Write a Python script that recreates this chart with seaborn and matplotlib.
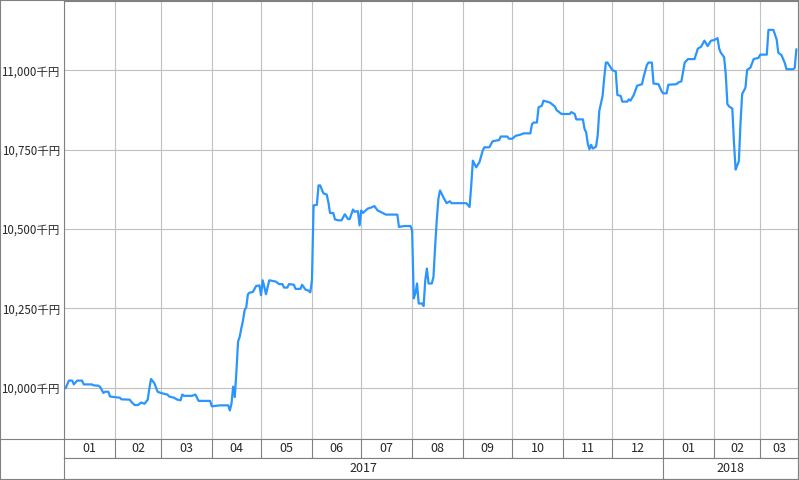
import matplotlib
matplotlib.use("Agg")
import matplotlib.pyplot as plt
import matplotlib.dates as mdates
from matplotlib.patches import Rectangle
from matplotlib.lines import Line2D
import pandas as pd
import seaborn as sns

# values (千円)
dates = [
    "2017-01-02", "2017-01-04", "2017-01-06", "2017-01-07", "2017-01-09", "2017-01-12",
    "2017-01-13", "2017-01-18", "2017-01-19", "2017-01-22", "2017-01-23", "2017-01-25",
    "2017-01-26", "2017-01-28", "2017-01-29", "2017-02-01", "2017-02-04", "2017-02-05",
    "2017-02-10", "2017-02-11", "2017-02-13", "2017-02-15", "2017-02-17", "2017-02-19",
    "2017-02-21", "2017-02-22", "2017-02-23", "2017-02-25", "2017-02-27", "2017-03-01",
    "2017-03-05", "2017-03-06", "2017-03-09", "2017-03-11", "2017-03-13", "2017-03-14",
    "2017-03-15", "2017-03-20", "2017-03-22", "2017-03-24", "2017-03-31", "2017-04-01",
    "2017-04-06", "2017-04-11", "2017-04-12", "2017-04-13", "2017-04-14", "2017-04-15",
    "2017-04-16", "2017-04-17", "2017-04-18", "2017-04-19", "2017-04-20", "2017-04-21",
    "2017-04-22", "2017-04-23", "2017-04-24", "2017-04-26", "2017-04-28", "2017-04-30",
    "2017-05-01", "2017-05-02", "2017-05-03", "2017-05-04", "2017-05-06", "2017-05-10",
    "2017-05-12", "2017-05-14", "2017-05-15", "2017-05-17", "2017-05-18", "2017-05-21",
    "2017-05-22", "2017-05-25", "2017-05-26", "2017-05-28", "2017-05-30", "2017-05-31",
    "2017-06-01", "2017-06-02", "2017-06-04", "2017-06-05", "2017-06-06", "2017-06-08",
    "2017-06-10", "2017-06-11", "2017-06-12", "2017-06-14", "2017-06-15", "2017-06-17",
    "2017-06-19", "2017-06-21", "2017-06-23", "2017-06-24", "2017-06-26", "2017-06-27",
    "2017-06-29", "2017-06-30", "2017-07-01", "2017-07-02", "2017-07-05", "2017-07-07",
    "2017-07-09", "2017-07-11", "2017-07-13", "2017-07-16", "2017-07-23", "2017-07-24",
    "2017-07-27", "2017-07-31", "2017-08-01", "2017-08-02", "2017-08-03", "2017-08-04",
    "2017-08-05", "2017-08-07", "2017-08-08", "2017-08-09", "2017-08-10", "2017-08-11",
    "2017-08-13", "2017-08-14", "2017-08-15", "2017-08-16", "2017-08-17", "2017-08-18",
    "2017-08-20", "2017-08-22", "2017-08-24", "2017-08-25", "2017-09-03", "2017-09-05",
    "2017-09-06", "2017-09-07", "2017-09-09", "2017-09-11", "2017-09-13", "2017-09-14",
    "2017-09-17", "2017-09-19", "2017-09-23", "2017-09-24", "2017-09-28", "2017-09-29",
    "2017-10-01", "2017-10-03", "2017-10-06", "2017-10-08", "2017-10-12", "2017-10-13",
    "2017-10-14", "2017-10-16", "2017-10-17", "2017-10-19", "2017-10-20", "2017-10-24",
    "2017-10-27", "2017-10-28", "2017-10-31", "2017-11-05", "2017-11-06", "2017-11-08",
    "2017-11-09", "2017-11-13", "2017-11-14", "2017-11-15", "2017-11-16", "2017-11-17",
    "2017-11-18", "2017-11-19", "2017-11-21", "2017-11-22", "2017-11-23", "2017-11-25",
    "2017-11-26", "2017-11-27", "2017-11-28", "2017-12-01", "2017-12-03", "2017-12-04",
    "2017-12-06", "2017-12-07", "2017-12-10", "2017-12-11", "2017-12-12", "2017-12-14",
    "2017-12-16", "2017-12-19", "2017-12-20", "2017-12-22", "2017-12-23", "2017-12-25",
    "2017-12-26", "2017-12-29", "2017-12-31", "2018-01-01", "2018-01-03", "2018-01-04",
    "2018-01-09", "2018-01-10", "2018-01-12", "2018-01-14", "2018-01-16", "2018-01-20",
    "2018-01-22", "2018-01-24", "2018-01-26", "2018-01-28", "2018-01-30", "2018-02-01",
    "2018-02-03", "2018-02-04", "2018-02-05", "2018-02-07", "2018-02-08", "2018-02-09",
    "2018-02-10", "2018-02-12", "2018-02-13", "2018-02-14", "2018-02-15", "2018-02-16",
    "2018-02-17", "2018-02-18", "2018-02-20", "2018-02-21", "2018-02-23", "2018-02-25",
    "2018-02-28", "2018-03-01", "2018-03-05", "2018-03-06", "2018-03-09", "2018-03-11",
    "2018-03-12", "2018-03-14", "2018-03-16", "2018-03-17", "2018-03-21", "2018-03-22",
    "2018-03-23",
]
values = [
    9998, 10022, 10022, 10010, 10022, 10022,
    10010, 10010, 10007, 10006, 10002, 9983,
    9987, 9987, 9972, 9970, 9968, 9963,
    9962, 9955, 9945, 9945, 9953, 9949,
    9962, 9998, 10027, 10014, 9987, 9983,
    9978, 9972, 9968, 9962, 9960, 9978,
    9974, 9974, 9978, 9958, 9958, 9941,
    9944, 9944, 9928, 9949, 10003, 9970,
    10050, 10145, 10160, 10187, 10211, 10244,
    10253, 10294, 10299, 10301, 10320, 10322,
    10291, 10338, 10317, 10294, 10338, 10334,
    10326, 10326, 10315, 10315, 10326, 10324,
    10311, 10311, 10324, 10309, 10305, 10300,
    10338, 10574, 10576, 10637, 10637, 10612,
    10608, 10584, 10550, 10550, 10530, 10527,
    10527, 10546, 10531, 10531, 10561, 10554,
    10556, 10511, 10558, 10550, 10564, 10567,
    10572, 10558, 10553, 10545, 10545, 10506,
    10509, 10509, 10495, 10281, 10297, 10328,
    10265, 10265, 10257, 10338, 10375, 10328,
    10328, 10349, 10443, 10527, 10595, 10621,
    10600, 10581, 10587, 10581, 10581, 10569,
    10637, 10715, 10694, 10710, 10747, 10757,
    10757, 10776, 10780, 10791, 10791, 10784,
    10784, 10793, 10797, 10801, 10801, 10830,
    10835, 10835, 10883, 10888, 10904, 10898,
    10885, 10874, 10862, 10862, 10868, 10862,
    10845, 10845, 10815, 10804, 10768, 10751,
    10765, 10753, 10759, 10794, 10872, 10919,
    10977, 11024, 11024, 11000, 10996, 10922,
    10919, 10901, 10901, 10908, 10904, 10922,
    10951, 10956, 10979, 11017, 11024, 11024,
    10958, 10956, 10933, 10927, 10927, 10954,
    10956, 10961, 10965, 11024, 11035, 11035,
    11068, 11074, 11093, 11076, 11093, 11095,
    11101, 11068, 11055, 11041, 10987, 10893,
    10886, 10879, 10773, 10687, 10700, 10714,
    10835, 10925, 10945, 11001, 11008, 11035,
    11039, 11049, 11049, 11127, 11127, 11097,
    11055, 11047, 11022, 11003, 11003, 11007,
    11066,
]
y_ticks = [10000, 10250, 10500, 10750, 11000]
x_start = pd.Timestamp("2017-01-01")
x_end = pd.Timestamp("2018-03-24")
month_starts = pd.date_range("2017-01-01", "2018-03-01", freq="MS")
month_labels = [d.strftime("%m") for d in month_starts]
year_labels = ["2017", "2018"]

sns.set_style("white")
plt.rcParams['font.family'] = ['Noto Sans CJK JP', 'DejaVu Sans']

W, H = 799, 480
L, R = 64 / W, 798 / W
grid_c = "#c0c0c0"
frame_c = "#808080"
fs = 9

fig = plt.figure(figsize=(W / 100, H / 100), dpi=100)
ax = fig.add_axes([L, 41 / H, R - L, 438 / H])

df = pd.DataFrame({"date": pd.to_datetime(dates), "value": values})
sns.lineplot(data=df, x="date", y="value", ax=ax, color="#2b95fe",
             lw=1.6, estimator=None, sort=False)

ax.set_xlim(x_start, x_end)
ax.set_ylim(9838, 11218)
ax.set_yticks(y_ticks)
ax.set_yticklabels([f"{v:,}千円" for v in y_ticks])
ax.set_xticks(month_starts)
ax.tick_params(axis="x", length=0, labelbottom=False)
ax.tick_params(axis="y", length=0, pad=3, labelsize=8.3)
ax.set_xlabel("")
ax.set_ylabel("")
ax.grid(True, color=grid_c, lw=0.8)
for s in ax.spines.values():
    s.set_color(frame_c)
    s.set_linewidth(0.8)

x0n, x1n = mdates.date2num(x_start), mdates.date2num(x_end)
month_ends = list(month_starts[1:]) + [month_starts[-1] + pd.offsets.MonthBegin(1)]

# month row
axm = fig.add_axes([L, 22 / H, R - L, 19 / H])
axm.set_xlim(x0n, x1n)
axm.set_ylim(0, 1)
for ms, me, lab in zip(month_starts, month_ends, month_labels):
    a = max(mdates.date2num(ms), x0n)
    b = min(mdates.date2num(me), x1n)
    if a > x0n:
        axm.axvline(a, color=frame_c, lw=0.8)
    axm.text((a + b) / 2, 0.5, lab, ha="center", va="center", fontsize=fs)

# year row
axy = fig.add_axes([L, 1 / H, R - L, 21 / H])
axy.set_xlim(x0n, x1n)
axy.set_ylim(0, 1)
year_bounds = [x0n, mdates.date2num(pd.Timestamp("2018-01-01")), x1n]
for i, lab in enumerate(year_labels):
    a, b = year_bounds[i], year_bounds[i + 1]
    if i > 0:
        axy.axvline(a, color=frame_c, lw=0.8)
    axy.text((a + b) / 2, 0.5, lab, ha="center", va="center", fontsize=fs)

for a in (axm, axy):
    a.set_xticks([])
    a.set_yticks([])
    for s in a.spines.values():
        s.set_color(frame_c)
        s.set_linewidth(0.8)

fig.add_artist(Line2D([0, L], [41 / H, 41 / H], transform=fig.transFigure,
                      color=frame_c, lw=0.8))
fig.patches.append(Rectangle((0, 0), 1, 1, transform=fig.transFigure,
                             fill=False, ec=frame_c, lw=1.5))

fig.savefig("out.png", dpi=100)
